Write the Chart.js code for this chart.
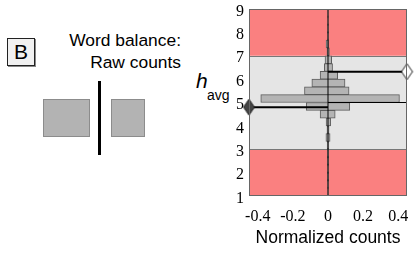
<!DOCTYPE html>
<html>
<head>
<meta charset="utf-8">
<script src="https://cdn.jsdelivr.net/npm/chart.js@4/dist/chart.umd.min.js"></script>
<style>
  body { margin: 0; width: 416px; height: 255px; overflow: hidden; background: #fff; position: relative;
         font-family: "Liberation Sans", Arial, sans-serif; color: #000; }
  .abs { position: absolute; }
  #panelB { left: 7px; top: 38px; width: 26px; height: 26px; background: #f1f1f1; border: 1px solid #222;
            box-shadow: 1px 1px 0 #888; font-size: 21px; line-height: 26px; text-align: center; }
  .caption { right: 235px; font-size: 17.4px; line-height: 20px; white-space: nowrap; }
  .sq { top: 99px; height: 36px; background: #b3b3b3; border: 1px solid #8c8c8c; }
  #divider { left: 98px; top: 81px; width: 3px; height: 74px; background: #000; }
  #hMain { left: 196px; top: 69px; font-size: 21px; font-style: italic; }
  #hSub { left: 207px; top: 87px; font-size: 14px; }
  #wrap { left: 200px; top: 0; width: 216px; height: 255px; }
</style>
</head>
<body>
<div id="panelB" class="abs">B</div>
<div class="abs caption" style="top:30px">Word balance:</div>
<div class="abs caption" style="top:52px">Raw counts</div>
<div class="abs sq" style="left:43px;width:45px"></div>
<div class="abs sq" style="left:111px;width:32px"></div>
<div id="divider" class="abs"></div>
<div id="hMain" class="abs">h</div>
<div id="hSub" class="abs">avg</div>
<div id="wrap" class="abs"><canvas id="c" width="216" height="255"></canvas></div>

<script>
// histogram bins (centre of each 1/3-wide h_avg bin)
const binCenters = [1.167, 1.5, 1.833, 2.167, 2.5, 2.833, 3.167, 3.5, 3.833, 4.167, 4.5, 4.833,
                    5.167, 5.5, 5.833, 6.167, 6.5, 6.833, 7.167, 7.5, 7.833, 8.167, 8.5, 8.833];
// normalized counts drawn to the left / right of zero
const leftCounts  = [0.002, 0.003, 0.004, 0.003, 0.004, 0.004, 0.005, 0.012, 0.006, 0.011, 0.045, 0.124,
                     0.383, 0.134, 0.092, 0.045, 0.021, 0.017, 0.006, 0.011, 0.003, 0.003, 0.002, 0.002];
const rightCounts = [0.002, 0.003, 0.004, 0.003, 0.004, 0.004, 0.005, 0.012, 0.006, 0.015, 0.041, 0.124,
                     0.407, 0.120, 0.097, 0.055, 0.026, 0.021, 0.008, 0.003, 0.003, 0.003, 0.002, 0.002];
const leftMean = 4.8;
const rightMean = 6.32;
const refLevel = 5.0;
const xEdge = 0.45;
const yRange = [1, 9];
const bandEdges = [1, 3, 7, 9];
const xTicks = [-0.4, -0.2, 0, 0.2, 0.4];
const yTicks = [1, 2, 3, 4, 5, 6, 7, 8, 9];

function diamond(fill) {
  const cv = document.createElement('canvas');
  cv.width = 13; cv.height = 18;
  const g = cv.getContext('2d');
  g.beginPath();
  g.moveTo(6.5, 1); g.lineTo(12, 9); g.lineTo(6.5, 17); g.lineTo(1, 9); g.closePath();
  g.fillStyle = fill; g.fill();
  g.strokeStyle = '#222'; g.lineWidth = 1; g.stroke();
  return cv;
}

const bandsPlugin = {
  id: 'bands',
  beforeDatasetsDraw(chart) {
    const {ctx, chartArea: a, scales: {y}} = chart;
    const colors = ['#fa8080', '#e5e5e5', '#fa8080'];
    ctx.save();
    for (let i = 0; i < bandEdges.length - 1; i++) {
      const top = y.getPixelForValue(bandEdges[i + 1]);
      const bot = y.getPixelForValue(bandEdges[i]);
      ctx.fillStyle = colors[i];
      ctx.fillRect(a.left, top, a.right - a.left, bot - top);
    }
    ctx.strokeStyle = '#777';
    ctx.lineWidth = 1;
    [3, 7].forEach(v => {
      const p = Math.round(y.getPixelForValue(v)) + 0.5;
      ctx.beginPath(); ctx.moveTo(a.left, p); ctx.lineTo(a.right, p); ctx.stroke();
    });
    ctx.restore();
  },
  afterDatasetsDraw(chart) {
    const {ctx, chartArea: a} = chart;
    ctx.save();
    ctx.strokeStyle = '#666';
    ctx.lineWidth = 1;
    ctx.strokeRect(Math.round(a.left) + 0.5, Math.round(a.top) + 0.5,
                   Math.round(a.right - a.left) - 1, Math.round(a.bottom - a.top) - 1);
    ctx.restore();
  }
};

new Chart(document.getElementById('c'), {
  type: 'bar',
  data: {
    datasets: [
      {
        type: 'scatter',
        data: [{x: -xEdge, y: leftMean}],
        pointStyle: diamond('#444'),
        pointRadius: 8,
        clip: false,
        order: 0
      },
      {
        type: 'scatter',
        data: [{x: xEdge, y: rightMean}],
        pointStyle: diamond('#fff'),
        pointRadius: 8,
        clip: false,
        order: 0
      },
      {
        type: 'line',
        data: [{x: 0, y: leftMean}, {x: -xEdge, y: leftMean}],
        borderColor: '#000', borderWidth: 2, pointRadius: 0, order: 1
      },
      {
        type: 'line',
        data: [{x: 0, y: rightMean}, {x: xEdge, y: rightMean}],
        borderColor: '#000', borderWidth: 2, pointRadius: 0, order: 1
      },
      {
        type: 'line',
        data: [{x: 0, y: refLevel}, {x: xEdge, y: refLevel}],
        borderColor: '#000', borderWidth: 1.2, pointRadius: 0, order: 1
      },
      {
        type: 'line',
        data: [{x: 0, y: yRange[0]}, {x: 0, y: yRange[1]}],
        borderColor: '#000', borderWidth: 1, pointRadius: 0, order: 2
      },
      {
        type: 'bar',
        indexAxis: 'y',
        data: binCenters.map((c, i) => ({y: c, x: [-leftCounts[i], rightCounts[i]]})),
        backgroundColor: '#b4b4b4',
        borderColor: '#5c5c5c',
        borderWidth: 1,
        borderSkipped: false,
        barPercentage: 1,
        categoryPercentage: 1,
        order: 3
      }
    ]
  },
  options: {
    responsive: false,
    animation: false,
    devicePixelRatio: 1,
    layout: {padding: {top: 8, right: 8, bottom: 0, left: 0}},
    plugins: {legend: {display: false}, tooltip: {enabled: false}},
    scales: {
      x: {
        type: 'linear',
        offset: false,
        min: -xEdge, max: xEdge,
        grid: {display: false, drawTicks: false, offset: false},
        border: {display: false},
        afterBuildTicks: s => { s.ticks = xTicks.map(v => ({value: v})); },
        afterFit: s => { s.height = 59; s.paddingLeft = 0; s.paddingRight = 0; },
        ticks: {
          color: '#000', padding: 11, maxRotation: 0, autoSkip: false,
          font: {family: '"Liberation Serif", "Times New Roman", serif', size: 16},
          callback: v => (v === 0 ? '0' : v.toFixed(1))
        },
        title: {
          display: true, text: 'Normalized counts', color: '#000',
          padding: {top: 1, bottom: 6},
          font: {family: '"Liberation Sans", Arial, sans-serif', size: 17.5}
        }
      },
      y: {
        type: 'linear',
        offset: false,
        min: yRange[0], max: yRange[1],
        grid: {display: false, drawTicks: false, offset: false},
        border: {display: false},
        afterBuildTicks: s => { s.ticks = yTicks.map(v => ({value: v})); },
        afterFit: s => { s.width = 49; s.paddingTop = 0; s.paddingBottom = 0; },
        ticks: {
          color: '#000', padding: 5, labelOffset: 2.5, autoSkip: false,
          font: {family: '"Liberation Serif", "Times New Roman", serif', size: 16}
        }
      }
    }
  },
  plugins: [bandsPlugin]
});
</script>
</body>
</html>
